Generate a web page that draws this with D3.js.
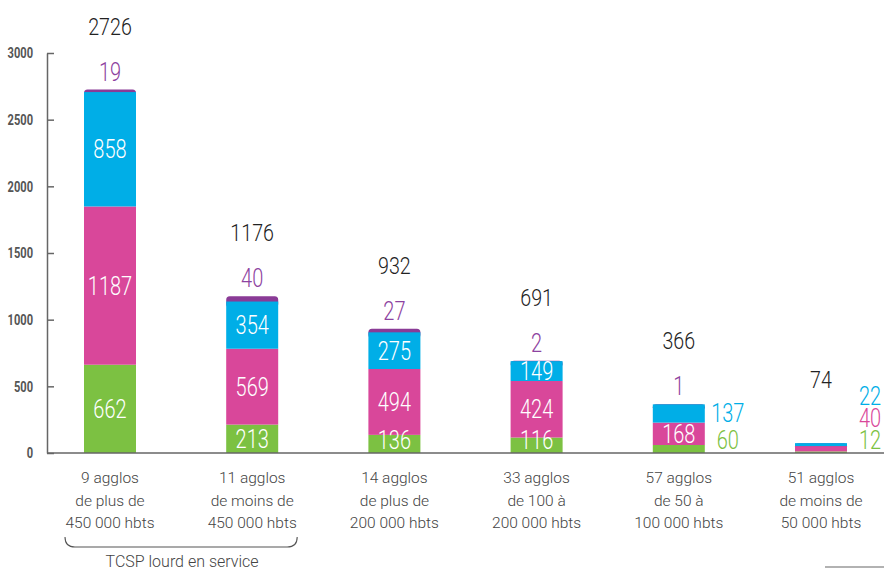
<!DOCTYPE html>
<html lang="fr">
<head>
<meta charset="utf-8">
<script src="https://cdn.jsdelivr.net/npm/d3@7"></script>
<style>
  html, body { margin: 0; padding: 0; background: #fff; }
  svg { display: block; }
</style>
</head>
<body>
<svg id="chart" width="884" height="570"></svg>
<script>
// Agglomeration groups (x axis), one label line per entry
const categories = [
  ["9 agglos", "de plus de", "450 000 hbts"],
  ["11 agglos", "de moins de", "450 000 hbts"],
  ["14 agglos", "de plus de", "200 000 hbts"],
  ["33 agglos", "de 100 à", "200 000 hbts"],
  ["57 agglos", "de 50 à", "100 000 hbts"],
  ["51 agglos", "de moins de", "50 000 hbts"]
];

// Stacked series, bottom to top
const greenValues  = [662, 213, 136, 116, 60, 12];
const pinkValues   = [1187, 569, 494, 424, 168, 40];
const blueValues   = [858, 354, 275, 149, 137, 22];
const purpleValues = [19, 40, 27, 2, 1, 0];

const yTicks = [0, 500, 1000, 1500, 2000, 2500, 3000];
const groupLabel = "TCSP lourd en service";
const groupSpan = [0, 1]; // categories covered by the bracket

const seriesKeys = ["green", "pink", "blue", "purple"];
const colors = { green: "#7cc142", pink: "#d9479a", blue: "#00aee7", purple: "#8a3b96" };
const labelColors = { green: "#7cc142", pink: "#d9479a", blue: "#00aee7", purple: "#8d42a0" };
const FONT = "Roboto, 'DejaVu Sans', sans-serif";

const rows = categories.map((c, i) => ({
  key: c.join(" "),
  lines: c,
  green: greenValues[i],
  pink: pinkValues[i],
  blue: blueValues[i],
  purple: purpleValues[i]
}));
rows.forEach(r => r.total = seriesKeys.reduce((s, k) => s + r[k], 0));

const svg = d3.select("#chart");

const x = d3.scalePoint().domain(rows.map(r => r.key)).range([110, 821]);
const y = d3.scaleLinear().domain([0, 3000]).range([453, 53]);
const barW = 52;
const axisX = 47;

// Condensed text helper: horizontal squeeze keeps glyphs narrow like DIN-style figures
function cText(g, tx, ty, str, opts) {
  return g.append("text")
    .attr("transform", `translate(${tx},${ty}) scale(${opts.sx || 1},1)`)
    .attr("text-anchor", opts.anchor || "middle")
    .attr("font-family", FONT)
    .attr("font-size", opts.size)
    .attr("font-weight", opts.weight || 300)
    .attr("fill", opts.fill)
    .text(str);
}

// Y axis
const yAxis = d3.axisLeft(y)
  .tickValues(yTicks)
  .tickFormat(d3.format("d"))
  .tickSizeInner(-7)
  .tickSizeOuter(0)
  .tickPadding(14);
const gy = svg.append("g").attr("transform", `translate(${axisX},0)`).call(yAxis);
gy.select(".domain").attr("stroke", "#666").attr("stroke-width", 1.5);
gy.selectAll(".tick line").attr("stroke", "#666").attr("stroke-width", 1.5);
gy.selectAll(".tick text")
  .attr("x", null)
  .attr("transform", "translate(-14,0) scale(0.74,1)")
  .attr("font-family", FONT)
  .attr("font-size", 15)
  .attr("font-weight", 700)
  .attr("fill", "#555");

// Stacks
const stack = d3.stack().keys(seriesKeys);
const layers = stack(rows);

const gBars = svg.append("g");
// purple cap first, with rounded top, extended underneath the blue segment
const purpleLayer = layers.find(l => l.key === "purple");
gBars.selectAll("rect.cap").data(purpleLayer).join("rect")
  .attr("class", "cap")
  .attr("x", d => x(d.data.key) - barW / 2)
  .attr("width", barW)
  .attr("y", d => y(d[1]))
  .attr("height", d => y(d[0]) - y(d[1]) + 6)
  .attr("rx", 3.5)
  .attr("fill", colors.purple);

layers.filter(l => l.key !== "purple").forEach(layer => {
  gBars.selectAll(`rect.s-${layer.key}`).data(layer).join("rect")
    .attr("class", `s-${layer.key}`)
    .attr("x", d => x(d.data.key) - barW / 2)
    .attr("width", barW)
    .attr("y", d => y(d[1]))
    .attr("height", d => y(d[0]) - y(d[1]))
    .attr("fill", colors[layer.key]);
});

// Baseline
svg.append("line")
  .attr("x1", axisX).attr("x2", 884)
  .attr("y1", y(0)).attr("y2", y(0))
  .attr("stroke", "#666").attr("stroke-width", 1.5);

// Value labels
const gLab = svg.append("g");
const CAP = 9; // half cap height of the 25px figures
rows.forEach((r, i) => {
  const cx = x(r.key);
  const barH = y(0) - y(r.total);
  const roomy = barH > 60;
  const segs = ["green", "pink", "blue"].map(k => {
    const layer = layers.find(l => l.key === k)[i];
    return { k, v: r[k], top: y(layer[1]), bot: y(layer[0]) };
  });
  const largest = d3.max(segs, s => s.v);
  let prevOut = null;
  segs.forEach(s => {
    const h = s.bot - s.top;
    const mid = (s.top + s.bot) / 2;
    const inside = h >= 12 && (roomy || s.v === largest);
    if (inside) {
      const base = Math.min(mid + CAP, y(0) - 4);
      cText(gLab, cx, base, s.v, { size: 25, sx: 0.8, fill: "#fff" });
    } else {
      let c = Math.min(mid, y(0) - 13);
      if (prevOut !== null) c = Math.min(c, prevOut - 22);
      prevOut = c;
      cText(gLab, cx + 49, c + CAP, s.v, { size: 25, sx: 0.8, fill: labelColors[s.k] });
    }
  });
  const top = y(r.total);
  if (r.purple > 0) {
    cText(gLab, cx, top - 9, r.purple, { size: 25, sx: 0.8, fill: labelColors.purple });
  }
  cText(gLab, cx, top - 55, r.total, { size: 24, sx: 0.82, fill: "#222" });
});

// Category labels
const gCat = svg.append("g");
rows.forEach(r => {
  r.lines.forEach((ln, j) => {
    gCat.append("text")
      .attr("x", x(r.key))
      .attr("y", 483 + j * 22.5)
      .attr("text-anchor", "middle")
      .attr("font-family", FONT)
      .attr("font-size", 15.5)
      .attr("font-weight", 300)
      .attr("fill", "#444")
      .text(ln);
  });
});

// Bracket grouping the first two categories
const bx0 = x(rows[groupSpan[0]].key) - 45;
const bx1 = x(rows[groupSpan[1]].key) + 45;
const by0 = 537, by1 = 547;
const bracket = d3.path();
bracket.moveTo(bx0, by0);
bracket.quadraticCurveTo(bx0, by1, bx0 + 10, by1);
bracket.lineTo(bx1 - 10, by1);
bracket.quadraticCurveTo(bx1, by1, bx1, by0);
svg.append("path").attr("d", bracket.toString())
  .attr("fill", "none").attr("stroke", "#555").attr("stroke-width", 1.1);
svg.append("text")
  .attr("x", (bx0 + bx1) / 2 + 1)
  .attr("y", 567)
  .attr("text-anchor", "middle")
  .attr("font-family", FONT)
  .attr("font-size", 16)
  .attr("font-weight", 300)
  .attr("fill", "#444")
  .text(groupLabel);

// Short rule at the bottom right
svg.append("line")
  .attr("x1", 825).attr("x2", 884).attr("y1", 567).attr("y2", 567)
  .attr("stroke", "#999").attr("stroke-width", 1.5);
</script>
</body>
</html>
